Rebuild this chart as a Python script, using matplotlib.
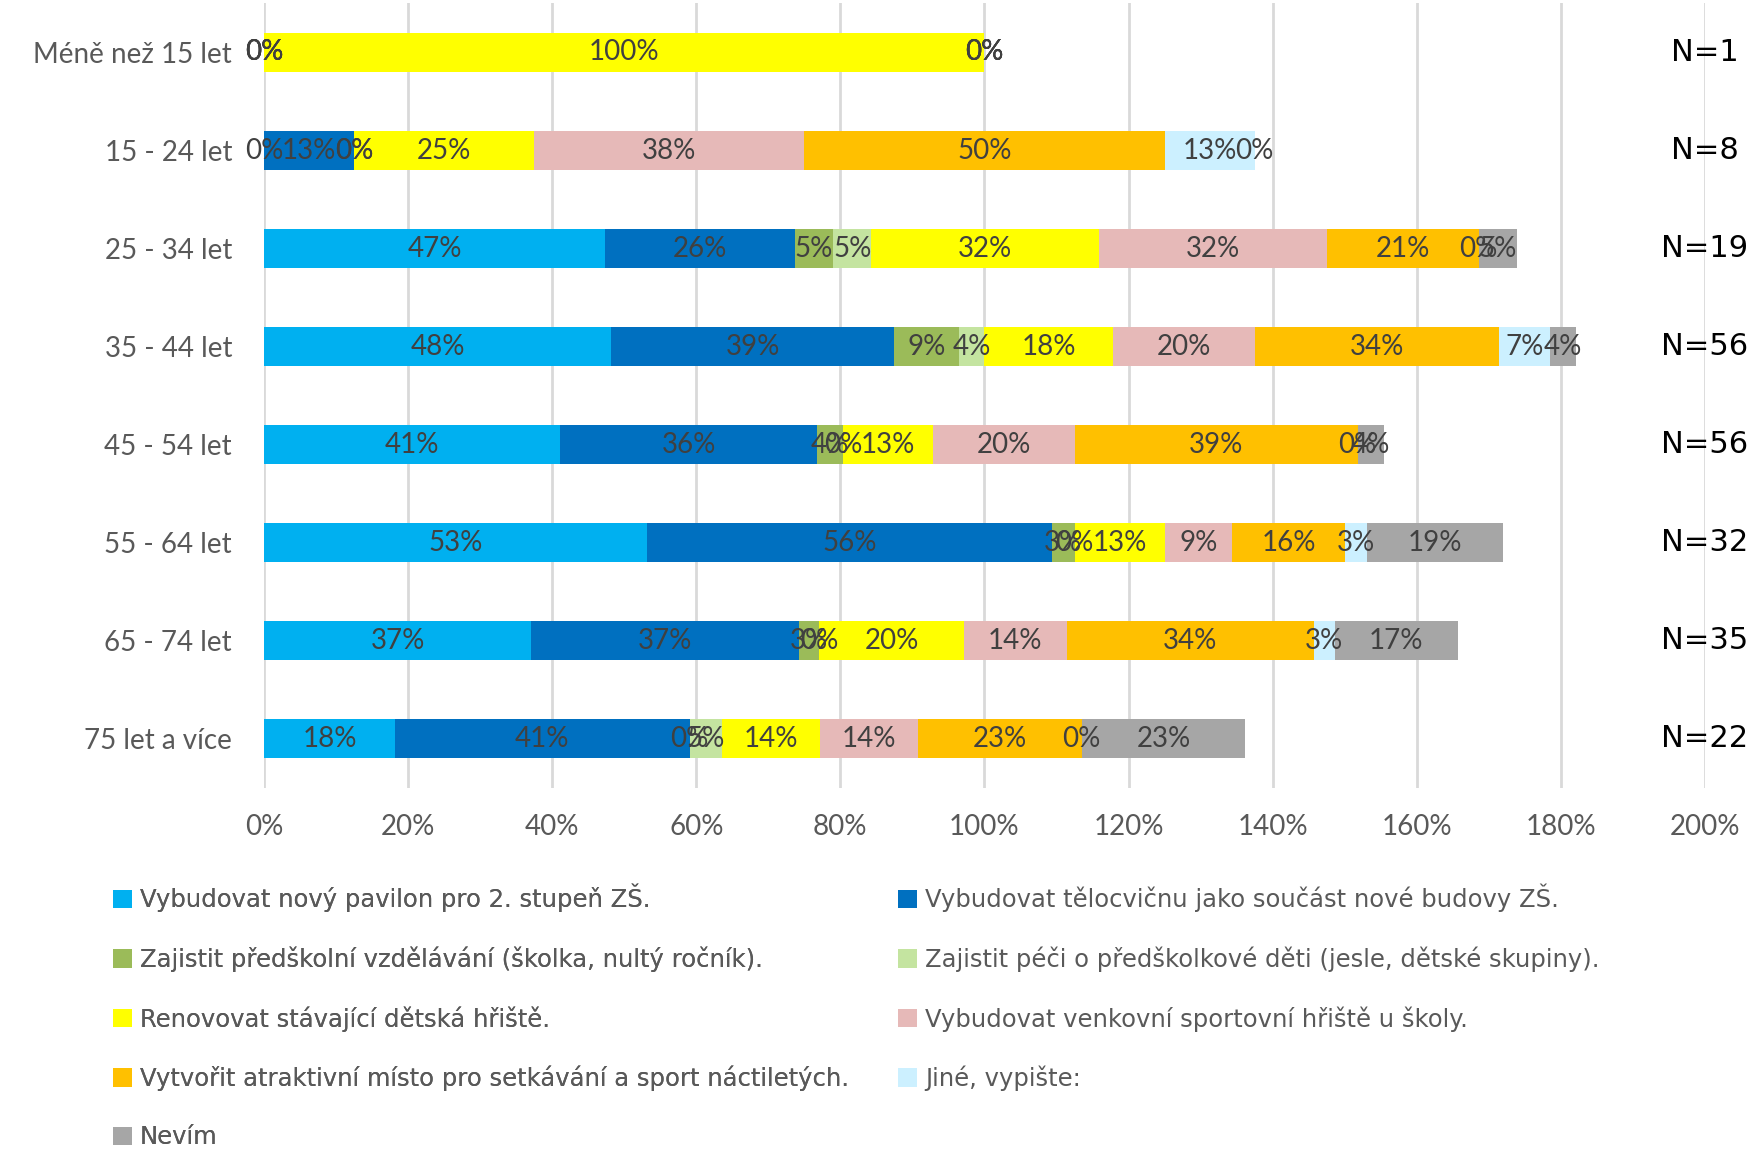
import numpy as np
import matplotlib.pyplot as plt

# vekove skupiny (shora dolu) a pocty respondentu
vek = ["Méně než 15 let", "15 - 24 let", "25 - 34 let", "35 - 44 let",
       "45 - 54 let", "55 - 64 let", "65 - 74 let", "75 let a více"]
n_resp = [1, 8, 19, 56, 56, 32, 35, 22]

# podily odpovedi v %
pavilon = [0, 0, 47.4, 48.2, 41.1, 53.1, 37.1, 18.2]
telocvicna = [0, 12.5, 26.3, 39.3, 35.7, 56.3, 37.1, 40.9]
predskolni = [0, 0, 5.3, 8.9, 3.6, 3.1, 2.9, 0]
pece = [0, 0, 5.3, 3.6, 0, 0, 0, 4.5]
renovovat = [100, 25, 31.6, 17.9, 12.5, 12.5, 20.0, 13.6]
venkovni = [0, 37.5, 31.6, 19.6, 19.6, 9.4, 14.3, 13.6]
nactileti = [0, 50, 21.1, 33.9, 39.3, 15.6, 34.3, 22.7]
jine = [0, 12.5, 0, 7.1, 0, 3.1, 2.9, 0]
nevim = [0, 0, 5.3, 3.6, 3.6, 18.8, 17.1, 22.7]

odpovedi = ["Vybudovat nový pavilon pro 2. stupeň ZŠ.",
            "Vybudovat tělocvičnu jako součást nové budovy ZŠ.",
            "Zajistit předškolní vzdělávání (školka, nultý ročník).",
            "Zajistit péči o předškolkové děti (jesle, dětské skupiny).",
            "Renovovat stávající dětská hřiště.",
            "Vybudovat venkovní sportovní hřiště u školy.",
            "Vytvořit atraktivní místo pro setkávání a sport náctiletých.",
            "Jiné, vypište:",
            "Nevím"]
serie = [pavilon, telocvicna, predskolni, pece, renovovat, venkovni, nactileti, jine, nevim]
barvy = ["#00B0F0", "#0070C0", "#9BBB59", "#C4E4A0", "#FFFF00",
         "#E6B9B8", "#FFC000", "#CCF0FF", "#A6A6A6"]

plt.rcParams['font.family'] = ['Lato', 'DejaVu Sans']
seda = "#595959"

fig = plt.figure(figsize=(17.55, 11.5), dpi=100)
ax = fig.add_axes([0.1504, 0.315, 0.8211, 0.682])

y = np.arange(len(vek))
left = np.zeros(len(vek))
handles = []
for hodnoty, barva, nazev in zip(serie, barvy, odpovedi):
    h = np.array(hodnoty, dtype=float)
    b = ax.barh(y, h, left=left, height=0.4, color=barva, label=nazev, linewidth=0)
    handles.append(b)
    for yi, li, hi in zip(y, left, h):
        ax.text(li + hi / 2, yi, "{}%".format(int(np.floor(hi + 0.5))),
                ha='center', va='center', fontsize=20, color="#404040")
    left += h

ax.set_xlim(0, 200)
ax.set_ylim(len(vek) - 0.5, -0.5)
ax.set_xticks(np.arange(0, 201, 20))
ax.set_xticklabels(["{}%".format(v) for v in range(0, 201, 20)])
ax.set_yticks(y)
ax.set_yticklabels(vek)
ax.tick_params(axis='both', length=0, labelsize=20, labelcolor=seda)
ax.tick_params(axis='y', pad=23)
ax.tick_params(axis='x', pad=19)
ax.grid(axis='x', color="#D9D9D9", linewidth=2)
ax.set_axisbelow(True)
for s in ax.spines.values():
    s.set_visible(False)

for yi, n in zip(y, n_resp):
    ax.text(200, yi, "N={}".format(n), ha='center', va='center', fontsize=22,
            color='black', family='DejaVu Sans', clip_on=False)

# legenda ve dvou sloupcich, poradi po radcich
kw = dict(frameon=False, labelcolor=seda, handlelength=0.78,
          handleheight=0.78, handletextpad=0.33, labelspacing=1.4,
          borderpad=0, borderaxespad=0, loc='upper left',
          prop={'family': 'DejaVu Sans', 'size': 17.5})
leg1 = fig.legend(handles[0::2], odpovedi[0::2], bbox_to_anchor=(113 / 1755, 1 - 884 / 1150), **kw)
fig.add_artist(leg1)
fig.legend(handles[1::2], odpovedi[1::2], bbox_to_anchor=(898 / 1755, 1 - 884 / 1150), **kw)

plt.savefig("out.png", dpi=100)
